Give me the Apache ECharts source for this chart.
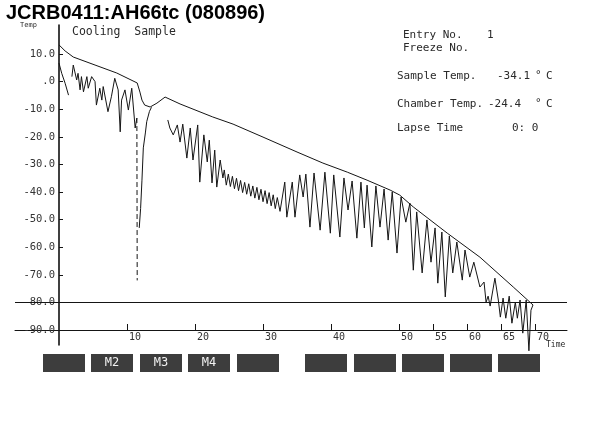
<!DOCTYPE html>
<html><head><meta charset="utf-8">
<script src="https://cdn.jsdelivr.net/npm/echarts@6/dist/echarts.min.js"></script>
<style>html,body{margin:0;padding:0;background:#fff}#c{width:593px;height:424px}</style>
</head><body><div id="c"></div>
<script>
// Upper smooth trace
const chamberTime = [0, 0.9, 2.1, 5.3, 8.5, 11.5, 11.9, 12.2, 12.6, 13.4, 14.4, 15.6, 17.8, 22.6, 25.6, 30.0, 35.0, 38.8, 42.4, 45.3, 48.7, 50.1, 52.1, 57.1, 61.9, 66.8, 69.7];
const chamberTemp = [13.3, 11.1, 8.9, 6.0, 3.1, -0.5, -3.8, -6.7, -8.5, -9.2, -7.8, -5.6, -8.1, -12.8, -15.4, -20.1, -25.5, -29.5, -32.8, -35.7, -39.3, -41.1, -45.4, -54.9, -63.6, -74.4, -80.9];

// Oscillating trace (null = pen lifted)
const sampleTime = [
  0.0, 0.4, 0.9, 1.4, 1.6,
  1.9, 2.1, 2.6, 2.8, 3.1, 3.3, 3.6, 4.1, 4.3, 4.8, 5.3, 5.5, 6.0, 6.3, 6.5, 7.2, 7.7, 8.2, 8.7, 9.0, 9.2, 9.7, 10.2, 10.7, 11.2, 11.45, 11.6,
  11.8, 12.0, 12.2, 12.4, 12.7, 12.9, 13.3, 13.6, 14.0,
  16.0, 16.3, 16.8, 17.4, 17.8, 18.2, 18.8, 19.3, 19.7, 20.4, 20.7, 21.3, 21.8, 22.1, 22.5, 22.9, 23.2, 23.7, 24.1,
  24.3, 24.6, 24.9, 25.2, 25.5, 25.8, 26.1, 26.4, 26.7, 27.0, 27.3, 27.6, 27.9, 28.2, 28.5, 28.8, 29.1, 29.4, 29.7, 30.0, 30.3, 30.6, 30.9, 31.2, 31.5, 31.8, 32.1, 32.5,
  33.2, 33.5, 34.3, 34.7, 35.4, 35.9, 36.3, 36.9, 37.5, 38.4, 39.1, 39.9, 40.4, 41.3, 41.9, 42.5, 43.1, 43.8, 44.4, 44.9, 45.3, 46.0, 46.6, 47.2, 47.8, 48.4, 49.0, 49.7, 50.3, 51.0, 51.6, 52.1, 52.6, 53.4, 54.1, 54.7, 55.3, 55.7, 56.3, 56.8, 57.4, 57.9, 58.5, 59.3, 59.7, 60.4, 61.0, 61.9,
  62.5, 62.8, 63.1, 63.4, 63.8, 64.1, 64.6, 64.9, 65.3, 65.7, 66.2, 66.6, 67.1, 67.4, 67.8, 68.2, 68.7, 69.1, 69.4, 69.7
];
const sampleTemp = [
  6.7, 3.0, -0.6, -4.9, null,
  1.8, 6.0, 0.6, 3.0, -3.0, 1.8, -3.7, 1.8, -2.4, 1.8, 0.0, -8.5, -2.4, -6.7, -1.8, -10.9, -5.5, 1.2, -3.0, -18.2, -6.7, -3.0, -10.3, -2.4, -16.8, -13.2, null,
  -53.0, -46.0, -35.7, -24.0, -18.6, -14.5, -10.8, -9.3, null,
  -13.9, -16.8, -19.3, -15.7, -21.9, -15.4, -27.7, -16.8, -28.4, -15.7, -36.4, -19.3, -29.1, -21.2, -36.7, -24.8, -38.2, -28.4, -34.9,
  -32.0, -37.5, -33.5, -38.0, -34.3, -38.8, -35.0, -39.5, -35.8, -40.2, -36.5, -40.8, -37.0, -41.5, -37.8, -42.2, -38.3, -42.8, -39.0, -43.5, -39.5, -44.2, -40.2, -45.0, -41.0, -46.0, -42.0, -47.0,
  -36.4, -49.1, -36.4, -49.1, -33.8, -41.8, -33.5, -52.7, -33.1, -53.8, -32.8, -54.9, -33.8, -56.3, -34.9, -46.5, -36.0, -56.7, -36.4, -53.0, -37.5, -59.9, -37.8, -52.7, -38.9, -57.4, -40.0, -62.1, -41.8, -50.9, -44.0, -68.3, -47.2, -69.3, -50.1, -65.4, -53.0, -73.0, -54.5, -78.0, -55.9, -69.3, -58.1, -71.9, -61.0, -70.8, -65.4, -74.4,
  -72.6, -79.9, -77.7, -81.3, -75.5, -71.2, -79.1, -85.3, -78.4, -85.7, -77.7, -87.5, -79.9, -85.7, -79.1, -91.1, -79.1, -97.5, -82.8, -80.9
];

// Dashed plunge
const dipTime = [11.45, 11.5];
const dipTemp = [-13.2, -72.0];

const refTemps = [-80];
const yTickValues = [10, 0, -10, -20, -30, -40, -50, -60, -70, -80, -90];
const xTickValues = [10, 20, 30, 40, 50, 55, 60, 65, 70];
const boxLabels = ['', 'M2', 'M3', 'M4', '', '', '', '', '', ''];
const boxLefts = [43, 91, 140, 188, 237, 305, 354, 402, 450, 498];

const zip = (a, b) => a.map((t, i) => [t, b[i] === null ? NaN : b[i]]);
const MONO = "'DejaVu Sans Mono', 'Liberation Mono', monospace";
const INK = '#151515';

const chart = echarts.init(document.getElementById('c'), null, {renderer: 'canvas'});

function txt(x, y, s, size, extra) {
  return {
    type: 'text', x: x, y: y,
    style: Object.assign({text: s, fill: '#2a2a2a', font: size + 'px ' + MONO, align: 'left', verticalAlign: 'middle'}, extra || {})
  };
}

const graphics = [
  {type: 'text', x: 6, y: 3, style: {text: 'JCRB0411:AH66tc (080896)', fill: '#000', font: "bold 20px 'Liberation Sans', Arial, sans-serif", align: 'left', verticalAlign: 'top'}},
  txt(20, 25, 'Temp', 7),
  txt(72, 32, 'Cooling  Sample', 11.5),
  txt(403, 35, 'Entry No.', 11), txt(487, 35, '1', 11),
  txt(403, 48, 'Freeze No.', 11),
  txt(397, 76, 'Sample Temp.', 11), txt(497, 76, '-34.1', 11), txt(535, 75, '°', 11), txt(546, 76, 'C', 11),
  txt(397, 104, 'Chamber Temp.', 11), txt(488, 104, '-24.4', 11), txt(535, 103, '°', 11), txt(546, 104, 'C', 11),
  txt(397, 128, 'Lapse Time', 11), txt(512, 128, '0: 0', 11),
  txt(546, 345, 'Time', 8)
];
boxLefts.forEach((l, i) => {
  graphics.push({type: 'rect', shape: {x: l, y: 354, width: 42, height: 18}, style: {fill: '#3d3d3d'}});
  if (boxLabels[i]) graphics.push({type: 'text', x: l + 21, y: 363, style: {text: boxLabels[i], fill: '#f2f2f2', font: '12px ' + MONO, align: 'center', verticalAlign: 'middle'}});
});

chart.setOption({
  animation: false,
  backgroundColor: '#fff',
  grid: {left: 15, right: 26, top: 25, bottom: 79, containLabel: false, outerBoundsMode: 'none'},
  xAxis: {
    type: 'value', min: -6.47, max: 74.7, offset: -15,
    axisLine: {show: true, onZero: false, lineStyle: {color: INK, width: 1}},
    axisTick: {show: true, inside: true, length: 6, customValues: xTickValues, lineStyle: {color: INK}},
    axisLabel: {show: true, customValues: xTickValues, formatter: v => String(v), align: 'left', verticalAlign: 'top', margin: 2, padding: [0, 0, 0, 2], color: '#333', fontSize: 10, fontFamily: MONO},
    splitLine: {show: false}
  },
  yAxis: {
    type: 'value', min: -95.4, max: 20.5, offset: -44,
    axisLine: {show: true, onZero: false, lineStyle: {color: '#000', width: 1.5}},
    axisTick: {show: true, inside: true, length: 4, customValues: yTickValues, lineStyle: {color: INK}},
    axisLabel: {show: true, customValues: yTickValues, formatter: v => v === 0 ? '.0' : v.toFixed(1), margin: 4, color: '#333', fontSize: 10.5, fontFamily: MONO},
    splitLine: {show: false}
  },
  graphic: graphics,
  series: [
    {type: 'line', data: zip(chamberTime, chamberTemp), symbol: 'none', clip: false,
     lineStyle: {color: INK, width: 1},
     markLine: {silent: true, symbol: 'none', label: {show: false}, lineStyle: {color: INK, width: 1, type: 'solid'}, data: refTemps.map(v => ({yAxis: v}))}},
    {type: 'line', data: zip(sampleTime, sampleTemp), symbol: 'none', clip: false, connectNulls: false,
     lineStyle: {color: INK, width: 1}},
    {type: 'line', data: zip(dipTime, dipTemp), symbol: 'none', clip: false,
     lineStyle: {color: INK, width: 1, type: [5, 3]}}
  ]
});
</script>
</body></html>
